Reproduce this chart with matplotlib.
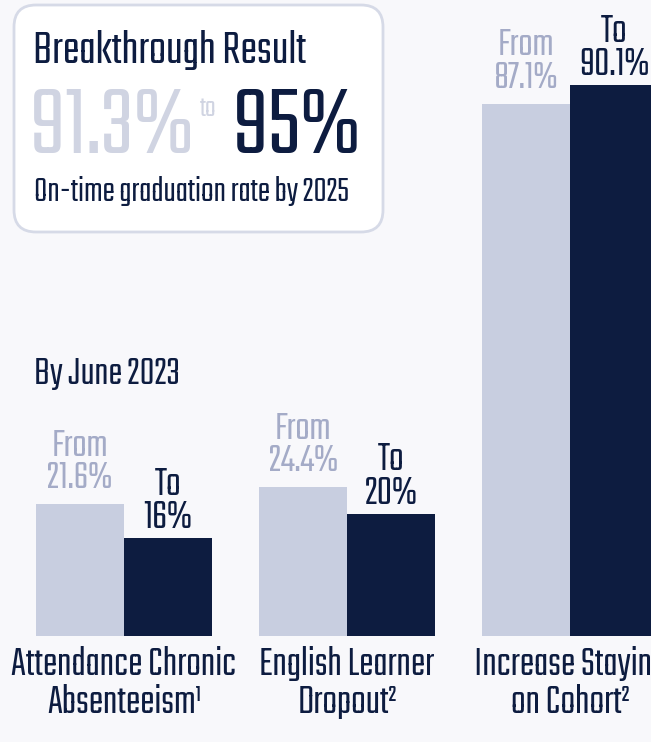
import matplotlib
matplotlib.use("Agg")
import matplotlib.pyplot as plt
from matplotlib.patches import FancyBboxPatch
import numpy as np

# data
categories = ["Attendance Chronic\nAbsenteeism\u00b9", "English Learner\nDropout\u00b2", "Increase Staying\non Cohort\u00b2"]
from_vals = [21.6, 24.4, 87.1]
to_vals = [16, 20, 90.1]
from_labels = ["21.6%", "24.4%", "87.1%"]
to_labels = ["16%", "20%", "90.1%"]

NAVY = "#0d1c40"
LIGHT_BAR = "#c8cee0"
LIGHT_TXT = "#a4abc7"
BG = "#f8f8fb"
plt.rcParams["font.family"] = ["Teko", "Oswald", "DejaVu Sans"]

fig = plt.figure(figsize=(6.51, 7.42), dpi=100, facecolor=BG)

# bars
ax = fig.add_axes([0, 106 / 742, 1, 611 / 742])
ax.set_facecolor("none")
ax.set_ylim(0, 100)
ax.set_xlim(-124 / 223, (651 - 124) / 223)
ax.axis("off")
x = np.arange(len(categories))
w = 88 / 223
ax.bar(x - w / 2, from_vals, w, color=LIGHT_BAR)
ax.bar(x + w / 2, to_vals, w, color=NAVY)

for xi, v, lab in zip(x, from_vals, from_labels):
    ax.annotate("From\n" + lab, (xi - w / 2, v), xytext=(0, 7), textcoords="offset points",
                ha="center", va="bottom", fontsize=30, color=LIGHT_TXT, linespacing=0.95)
for xi, v, lab in zip(x, to_vals, to_labels):
    ax.annotate("To\n" + lab, (xi + w / 2, v), xytext=(0, 3), textcoords="offset points",
                ha="center", va="bottom", fontsize=31, color=NAVY, linespacing=0.95)
for xi, cat in zip(x, categories):
    ax.annotate(cat, (xi, 0), xytext=(0, -7), textcoords="offset points",
                ha="center", va="top", fontsize=31, color=NAVY, linespacing=1.1,
                annotation_clip=False)

# overlay in pixel units
ov = fig.add_axes([0, 0, 1, 1], zorder=3)
ov.set_xlim(0, 651)
ov.set_ylim(742, 0)
ov.axis("off")
ov.patch.set_alpha(0)

box = FancyBboxPatch((14 + 22, 5 + 22), 369 - 44, 227 - 44, boxstyle="round,pad=22",
                     facecolor="white", edgecolor="#d6dae7", linewidth=2)
ov.add_patch(box)
ov.text(33, 63, "Breakthrough Result", fontsize=36, color=NAVY, va="baseline")
ov.text(30, 153, "91.3%", fontsize=74, color="#d0d4e2", va="baseline")
ov.text(200, 116, "to", fontsize=22, color="#d0d4e2", va="baseline")
ov.text(233, 153, "95%", fontsize=74, color=NAVY, va="baseline", fontweight="bold")
ov.text(34, 201, "On-time graduation rate by 2025", fontsize=26.5, color=NAVY, va="baseline")
ov.text(34, 384, "By June 2023", fontsize=30, color=NAVY, va="baseline")

fig.savefig("out.png", dpi=100, facecolor=BG)
